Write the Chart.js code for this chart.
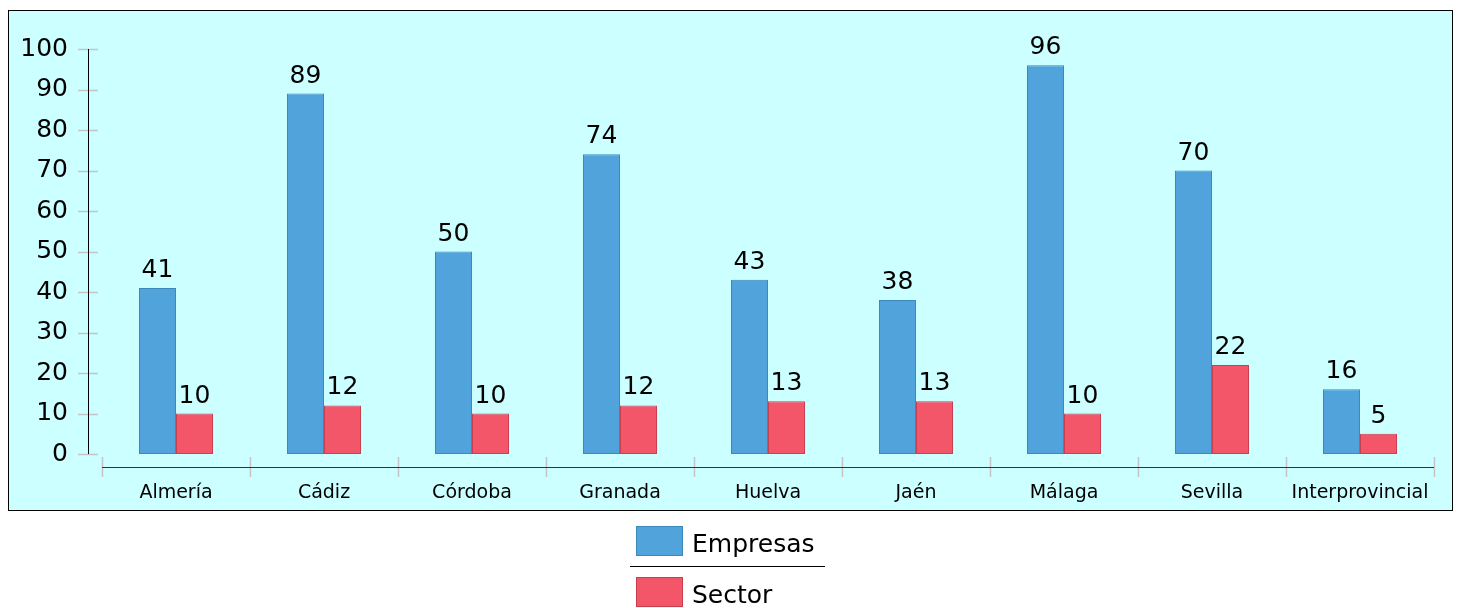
<!DOCTYPE html>
<html>
<head>
<meta charset="utf-8">
<script src="https://cdn.jsdelivr.net/npm/chart.js@4/dist/chart.umd.min.js"></script>
<style>
  html, body { margin: 0; padding: 0; background: #fff; }
  #wrap { position: relative; width: 1457px; height: 608px; }
</style>
</head>
<body>
<div id="wrap"><canvas id="provChart"></canvas></div>
<script>
const provincias = ["Almería", "Cádiz", "Córdoba", "Granada", "Huelva", "Jaén", "Málaga", "Sevilla", "Interprovincial"];
const empresas = [41, 89, 50, 74, 43, 38, 96, 70, 16];
const sector = [10, 12, 10, 12, 13, 13, 10, 22, 5];
const yTicks = [0, 10, 20, 30, 40, 50, 60, 70, 80, 90, 100];

const colors = {
  panel: "#ccffff",
  blue: "#51a4db",
  blueBorder: "#3d88bb",
  red: "#f25668",
  redBorder: "#c8404f",
  tick: "#c4c4c4",
};

const FONT = "'DejaVu Sans', Verdana, sans-serif";

// panel background, custom axes, value labels and legend
const decor = {
  id: "decor",
  beforeDraw(chart) {
    const ctx = chart.ctx;
    ctx.save();
    ctx.fillStyle = colors.panel;
    ctx.fillRect(8, 10, 1444, 500);
    ctx.strokeStyle = "#000";
    ctx.lineWidth = 1;
    ctx.strokeRect(8.5, 10.5, 1444, 500);
    ctx.restore();
  },
  afterDraw(chart) {
    const ctx = chart.ctx;
    const y = chart.scales.y;
    const area = chart.chartArea;
    const axisX = area.left - 14;
    ctx.save();

    // y axis
    ctx.strokeStyle = colors.tick;
    ctx.lineWidth = 1.5;
    yTicks.forEach((v) => {
      const py = Math.round(y.getPixelForValue(v)) + 0.5;
      ctx.beginPath();
      ctx.moveTo(axisX - 10, py);
      ctx.lineTo(axisX + 10, py);
      ctx.stroke();
    });
    ctx.strokeStyle = "#000";
    ctx.lineWidth = 1;
    ctx.beginPath();
    ctx.moveTo(axisX + 0.5, y.getPixelForValue(100));
    ctx.lineTo(axisX + 0.5, y.getPixelForValue(0));
    ctx.stroke();

    // x axis
    const axisY = area.bottom + 13;
    ctx.strokeStyle = colors.tick;
    ctx.lineWidth = 1.5;
    const step = (area.right - area.left) / provincias.length;
    for (let i = 0; i <= provincias.length; i++) {
      const px = Math.round(area.left + i * step) + 0.5;
      ctx.beginPath();
      ctx.moveTo(px, axisY - 10);
      ctx.lineTo(px, axisY + 10);
      ctx.stroke();
    }
    ctx.strokeStyle = "#333";
    ctx.lineWidth = 1.2;
    ctx.beginPath();
    ctx.moveTo(area.left, axisY + 0.5);
    ctx.lineTo(area.right, axisY + 0.5);
    ctx.stroke();

    // value labels
    ctx.fillStyle = "#000";
    ctx.font = "25px " + FONT;
    ctx.textAlign = "center";
    ctx.textBaseline = "alphabetic";
    chart.data.datasets.forEach((ds, di) => {
      chart.getDatasetMeta(di).data.forEach((bar, i) => {
        ctx.fillText(String(ds.data[i]), bar.x, bar.y - 11);
      });
    });

    // legend
    const lx = 636;
    const rows = [526, 577];
    chart.data.datasets.forEach((ds, di) => {
      const top = rows[di];
      ctx.fillStyle = ds.backgroundColor;
      ctx.fillRect(lx, top, 47, 30);
      ctx.strokeStyle = ds.borderColor;
      ctx.lineWidth = 1;
      ctx.strokeRect(lx + 0.5, top + 0.5, 46, 29);
      ctx.fillStyle = "#000";
      ctx.font = "25px " + FONT;
      ctx.textAlign = "left";
      ctx.textBaseline = "middle";
      ctx.fillText(ds.label, lx + 56, top + 19);
    });
    ctx.strokeStyle = "#000";
    ctx.lineWidth = 1;
    ctx.beginPath();
    ctx.moveTo(630, 566.5);
    ctx.lineTo(825, 566.5);
    ctx.stroke();

    ctx.restore();
  },
};

new Chart(document.getElementById("provChart"), {
  type: "bar",
  data: {
    labels: provincias,
    datasets: [
      {
        label: "Empresas",
        data: empresas,
        backgroundColor: colors.blue,
        borderColor: colors.blueBorder,
        borderWidth: 1,
        borderSkipped: false,
        categoryPercentage: 0.5,
        barPercentage: 1.0,
      },
      {
        label: "Sector",
        data: sector,
        backgroundColor: colors.red,
        borderColor: colors.redBorder,
        borderWidth: 1,
        borderSkipped: false,
        categoryPercentage: 0.5,
        barPercentage: 1.0,
      },
    ],
  },
  options: {
    responsive: true,
    maintainAspectRatio: false,
    animation: false,
    devicePixelRatio: 1,
    layout: { padding: { left: 8, right: 23, top: 49, bottom: 0 } },
    plugins: {
      legend: { display: false },
      tooltip: { enabled: false },
    },
    scales: {
      x: {
        grid: { display: false, drawTicks: false },
        border: { display: false },
        ticks: {
          color: "#000",
          font: { family: FONT, size: 19 },
          padding: 28,
          maxRotation: 0,
          autoSkip: false,
        },
        afterFit: (scale) => {
          scale.height = 154;
          scale.paddingLeft = 0;
          scale.paddingRight = 0;
        },
      },
      y: {
        min: 0,
        max: 100,
        grid: { display: false, drawTicks: false },
        border: { display: false },
        ticks: {
          stepSize: 10,
          color: "#000",
          font: { family: FONT, size: 25 },
          padding: 34,
        },
        afterFit: (scale) => { scale.width = 94; },
      },
    },
  },
  plugins: [decor],
});
</script>
</body>
</html>
